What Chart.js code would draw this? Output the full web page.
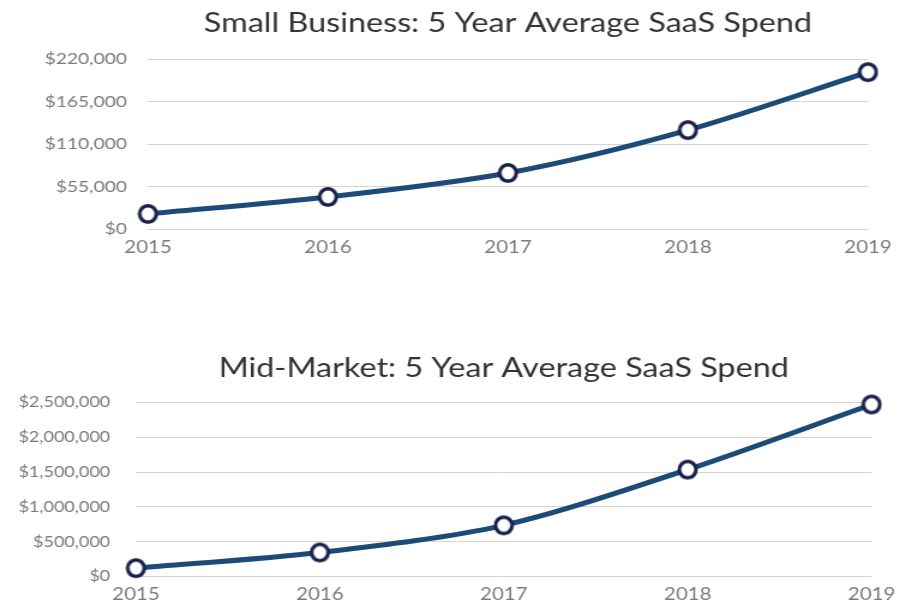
<!DOCTYPE html>
<html>
<head>
<meta charset="utf-8">
<script src="https://cdn.jsdelivr.net/npm/chart.js@4.4.0/dist/chart.umd.min.js"></script>
<style>
  body { margin: 0; background: #fff; overflow: hidden; }
  /* the source picture is stretched sideways, so the charts are too */
  .box { position: absolute; left: 0; transform: scaleX(1.2); transform-origin: 0 0; }
</style>
</head>
<body>
<div class="box" style="top:0;width:751px;height:259px"><canvas id="myChart"></canvas></div>
<div class="box" style="top:330px;width:754px;height:277px"><canvas id="myChart2"></canvas></div>
<script>
var STRETCH = 1.2;

var years = ['2015', '2016', '2017', '2018', '2019'];
var smallSpend = [19500, 41500, 72500, 128000, 203000];
var midSpend = [120000, 345000, 735000, 1535000, 2470000];
var smallTicks = [0, 55000, 110000, 165000, 220000];
var midTicks = [0, 500000, 1000000, 1500000, 2000000, 2500000];

function money(v) {
  return '$' + v.toLocaleString('en-US');
}

// ring marker squeezed so it comes out round after the stretch
function ringMarker() {
  var c = document.createElement('canvas');
  c.width = 18;
  c.height = 22;
  var g = c.getContext('2d');
  g.translate(9, 11);
  g.scale(1 / STRETCH, 1);
  g.beginPath();
  g.arc(0, 0, 8.3, 0, Math.PI * 2);
  g.fillStyle = '#ffffff';
  g.fill();
  g.lineWidth = 3.6;
  g.strokeStyle = '#181f4a';
  g.stroke();
  return c;
}
var marker = ringMarker();

function makeChart(id, title, values, ticks, opt) {
  var ctx = document.getElementById(id).getContext('2d');
  return new Chart(ctx, {
    type: 'line',
    data: {
      labels: years,
      datasets: [{
        data: values,
        borderColor: '#1c4b78',
        borderWidth: 5,
        tension: 0.3,
        clip: false,
        pointStyle: marker,
        pointRadius: 10
      }]
    },
    options: {
      responsive: true,
      maintainAspectRatio: false,
      animation: false,
      layout: { padding: 0 },
      plugins: {
        legend: { display: false },
        tooltip: { enabled: false },
        title: {
          display: true,
          fullSize: false,
          text: title,
          color: '#333333',
          font: { family: 'Lato', size: 27, weight: 'normal' },
          padding: { top: opt.titleTop, bottom: opt.titleBottom }
        }
      },
      scales: {
        x: {
          offset: false,
          afterFit: function (scale) { scale.height = 30; },
          grid: { display: false, drawTicks: false },
          border: { display: false },
          ticks: { color: '#7a7a7a', font: { family: 'Lato', size: 17 }, padding: 8 }
        },
        y: {
          min: ticks[0],
          max: ticks[ticks.length - 1],
          afterBuildTicks: function (scale) {
            scale.ticks = ticks.map(function (t) { return { value: t }; });
          },
          afterFit: function (scale) { scale.width = opt.yWidth; },
          grid: { color: '#d4d4d4', drawTicks: false },
          border: { display: false },
          ticks: {
            color: '#7a7a7a',
            font: { family: 'Lato', size: opt.yFont },
            padding: opt.yPad,
            callback: function (v) { return money(v); }
          }
        }
      }
    }
  });
}

makeChart('myChart', 'Small Business: 5 Year Average SaaS Spend', smallSpend, smallTicks,
  { yWidth: 123.3, yPad: 17.5, yFont: 16, titleTop: 7, titleBottom: 19.6 });
makeChart('myChart2', 'Mid-Market: 5 Year Average SaaS Spend', midSpend, midTicks,
  { yWidth: 113.3, yPad: 21.5, yFont: 15, titleTop: 22, titleBottom: 18 });
</script>
</body>
</html>
